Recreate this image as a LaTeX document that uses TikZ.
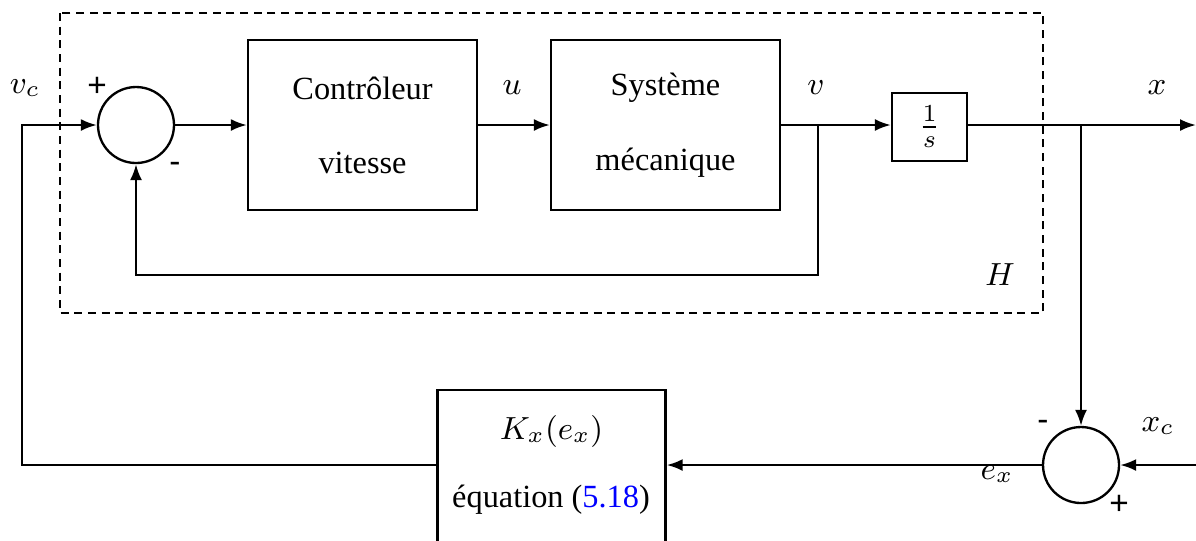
\documentclass[tikz,border=0pt]{standalone}
\usepackage{fix-cm}
\usepackage{fontspec}
\setmainfont{Liberation Serif}
\newfontfamily\sgnfont{Liberation Sans}
\usetikzlibrary{arrows.meta}
\begin{document}
\begin{tikzpicture}[x=0.3pt,y=-0.3pt, line width=0.7pt,
  >={Latex[length=4.8pt,width=3.6pt]},
  blk/.style={draw, inner sep=0pt, minimum width=68.7pt, minimum height=51pt, align=center},
  sumj/.style={draw, circle, inner sep=0pt, minimum size=22.8pt},
  lbl/.style={inner sep=0pt, font=\fontsize{9.7}{12}\selectfont},
  mlbl/.style={inner sep=0pt, font=\fontsize{9.6}{11}\selectfont},
  sgn/.style={inner sep=0pt, font=\sgnfont}]
\useasboundingbox (0,0) rectangle (1196,540);
\clip (0,0) rectangle (1196,540);
% dashed frame
\draw[dash pattern=on 2.4pt off 1.7pt] (60,13) rectangle (1043,313);
% blocks
\node[sumj] (c1) at (136,125) {};
\node[blk] (ctrl) at (362.5,125) {};
\node[lbl] at (362.5,88) {Contrôleur};
\node[lbl] at (362.5,163) {vitesse};
\node[blk] (sys) at (665.5,125) {};
\node[lbl] at (665.5,88) {Système};
\node[lbl] at (665.5,163) {mécanique};
\node[draw, inner sep=0pt, minimum width=22.5pt, minimum height=20.4pt, font=\fontsize{10.5}{12}\selectfont] (integ) at (929.5,127) {$\frac{1}{s}$};
\node[sumj] (c2) at (1081,465) {};
\node[blk, minimum width=68.4pt] (K) at (551.5,475) {};
\node[mlbl] at (551.5,431) {$K_x(e_x)$};
\node[lbl] at (551,500) {équation (\textcolor{blue}{5.18})};
% labels
\node[mlbl] at (25,88) {$v_c$};
\node[mlbl] at (512,88) {$u$};
\node[mlbl] at (816,88) {$v$};
\node[mlbl] at (1157,88) {$x$};
\node[mlbl] at (1158,426) {$x_c$};
\node[mlbl] at (997,474) {$e_x$};
\node[mlbl] at (1000,275) {$H$};
\node[sgn] at (97,87) {+};
\node[sgn] at (175,167) {-};
\node[sgn] at (1043,425) {-};
\node[sgn] at (1119,505) {+};
% coordinates
\coordinate (bv) at (818,125);
\coordinate (fb) at (136,275);
\coordinate (bx) at (1081,125);
\coordinate (xout) at (1196,125);
\coordinate (xc) at (1196,465);
\coordinate (lc) at (22,465);
% connectors
\draw[->] (c1.east) -- (ctrl.west);
\draw[->] (ctrl.east) -- (sys.west);
\draw[->] (sys.east) -- (sys.east -| integ.west);
\draw[->] (bv) -- (bv |- fb) -- (fb) -- (c1.south);
\draw[->] (integ.east |- xout) -- (xout);
\draw[->] (bx) -- (c2.north);
\draw[->] (xc) -- (c2.east);
\draw[->] (c2.west) -- (c2.west -| K.east);
\draw[->] (K.west |- lc) -- (lc) -- (lc |- c1.west) -- (c1.west);
\end{tikzpicture}
\end{document}
